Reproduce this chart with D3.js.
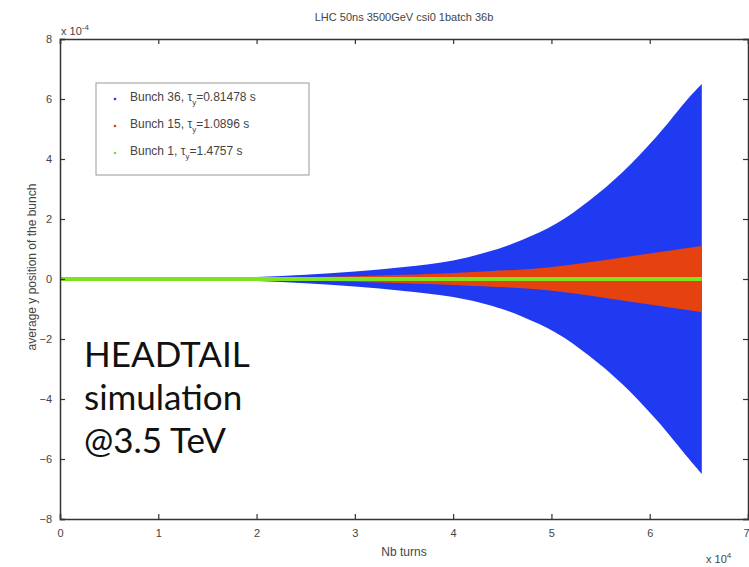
<!DOCTYPE html>
<html>
<head>
<meta charset="utf-8">
<script src="https://cdn.jsdelivr.net/npm/d3@7"></script>
<style>
  body { margin: 0; background: #fff; }
  svg { display: block; font-family: "Liberation Sans", Arial, sans-serif; }
</style>
</head>
<body>
<div id="chart"></div>
<script>
const turns = [0, 0.5, 1.0, 1.5, 2.0, 2.5, 3.0, 3.5, 4.0, 4.4, 4.7, 5.05, 5.38, 5.72, 6.07, 6.4, 6.53];
// envelope of the scatter, y position (x 10^-4)
const blueUpper = [0, 0.01, 0.02, 0.04, 0.07, 0.14, 0.25, 0.4, 0.62, 0.95, 1.3, 1.85, 2.6, 3.55, 4.75, 6.05, 6.5];
const blueLower = [0, -0.01, -0.02, -0.04, -0.07, -0.14, -0.25, -0.4, -0.6, -0.9, -1.25, -1.8, -2.55, -3.5, -4.7, -6.0, -6.5];
const redUpper = [0, 0.005, 0.01, 0.02, 0.04, 0.06, 0.09, 0.14, 0.2, 0.27, 0.32, 0.42, 0.56, 0.72, 0.88, 1.04, 1.1];
const redLower = [0, -0.005, -0.01, -0.02, -0.04, -0.06, -0.09, -0.14, -0.2, -0.26, -0.31, -0.41, -0.55, -0.72, -0.88, -1.04, -1.1];
const greenUpper = [0.07, 0.07, 0.07, 0.07, 0.07, 0.07, 0.07, 0.07, 0.07, 0.07, 0.07, 0.07, 0.07, 0.07, 0.07, 0.07, 0.07];
const greenLower = [-0.07, -0.07, -0.07, -0.07, -0.07, -0.07, -0.07, -0.07, -0.07, -0.07, -0.07, -0.07, -0.07, -0.07, -0.07, -0.07, -0.07];

const seriesNames = ["Bunch 36, ", "Bunch 15, ", "Bunch 1, "];
const tauValues = ["0.81478", "1.0896", "1.4757"];
const colors = ["#1f3af0", "#e6420f", "#7ee21c"];

const xTicks = [0, 1, 2, 3, 4, 5, 6, 7];
const yTicks = [-8, -6, -4, -2, 0, 2, 4, 6, 8];

const W = 749, H = 567;
const plotLeft = 60, plotRight = 748, plotTop = 39, plotBottom = 519;

const svg = d3.select("#chart").append("svg")
    .attr("width", W).attr("height", H);

const x = d3.scaleLinear().domain([0, 7]).range([plotLeft, plotRight]);
const y = d3.scaleLinear().domain([-8, 8]).range([plotBottom, plotTop]);

// envelopes, drawn in plotting order: blue, red, green on top
const bands = [
    { upper: blueUpper, lower: blueLower, color: colors[0] },
    { upper: redUpper, lower: redLower, color: colors[1] },
    { upper: greenUpper, lower: greenLower, color: colors[2] }
];
const area = d3.area()
    .x(d => x(d.t))
    .y0(d => y(d.lo))
    .y1(d => y(d.hi))
    .curve(d3.curveCatmullRom.alpha(0.5));

svg.selectAll(".band")
    .data(bands)
    .join("path")
    .attr("class", "band")
    .attr("fill", d => d.color)
    .attr("d", d => area(turns.map((t, i) => ({ t: t, hi: d.upper[i], lo: d.lower[i] }))));

// axes, MATLAB style: ticks inside, on all four sides
const axisColor = "#333";
const gx = svg.append("g").attr("transform", `translate(0,${plotBottom})`)
    .call(d3.axisBottom(x).tickValues(xTicks).tickSize(-5).tickPadding(10).tickFormat(d3.format("d")));
const gxTop = svg.append("g").attr("transform", `translate(0,${plotTop})`)
    .call(d3.axisTop(x).tickValues(xTicks).tickSize(-5).tickFormat(""));
const gy = svg.append("g").attr("transform", `translate(${plotLeft},0)`)
    .call(d3.axisLeft(y).tickValues(yTicks).tickSize(-5).tickPadding(8).tickFormat(d3.format("d")));
const gyRight = svg.append("g").attr("transform", `translate(${plotRight},0)`)
    .call(d3.axisRight(y).tickValues(yTicks).tickSize(-5).tickFormat(""));

[gx, gxTop, gy, gyRight].forEach(g => {
    g.select(".domain").attr("stroke", axisColor).attr("stroke-width", 1.5);
    g.selectAll(".tick line").attr("stroke", axisColor).attr("stroke-width", 1.2);
    g.selectAll(".tick text").attr("fill", "#444").attr("font-size", 11)
        .attr("font-family", "Liberation Sans, Arial, sans-serif");
});
// last x label sits on the window edge
gx.selectAll(".tick text").filter(d => d === 7).attr("text-anchor", "end").attr("dx", 1);

// exponent labels
const exp = (xx, yy, p) => {
    const t = svg.append("text").attr("x", xx).attr("y", yy)
        .attr("font-size", 11).attr("fill", "#444");
    t.append("tspan").text("x 10");
    t.append("tspan").attr("dy", -5).attr("font-size", 8).text(p);
};
exp(61, 35, "-4");
exp(706, 563, "4");

// title and axis labels
svg.append("text").attr("x", 404).attr("y", 21).attr("text-anchor", "middle")
    .attr("font-size", 11).attr("fill", "#444")
    .text("LHC 50ns 3500GeV csi0 1batch 36b");
svg.append("text").attr("x", 404).attr("y", 556).attr("text-anchor", "middle")
    .attr("font-size", 12).attr("fill", "#444").text("Nb turns");
svg.append("text")
    .attr("transform", `translate(36,${(plotTop + plotBottom) / 2 - 12}) rotate(-90)`)
    .attr("text-anchor", "middle").attr("font-size", 12).attr("fill", "#444")
    .text("average y position of the bunch");

// legend
const legend = svg.append("g");
legend.append("rect").attr("x", 96).attr("y", 83).attr("width", 213).attr("height", 92)
    .attr("fill", "#fff").attr("stroke", "#999").attr("stroke-width", 1);
seriesNames.forEach((name, i) => {
    const ly = 101 + i * 27;
    legend.append("circle").attr("cx", 115).attr("cy", ly - 2).attr("r", 1.3).attr("fill", colors[i]);
    const t = legend.append("text").attr("x", 130).attr("y", ly)
        .attr("font-size", 12).attr("fill", "#444");
    t.append("tspan").text(name + "\u03c4");
    t.append("tspan").attr("dy", 4).attr("font-size", 8).text("y");
    t.append("tspan").attr("dy", -4).text("=" + tauValues[i] + " s");
});

// slide annotation
const note = ["HEADTAIL", "simulation", "@3.5 TeV"];
svg.append("g").selectAll("text")
    .data(note)
    .join("text")
    .attr("x", 84)
    .attr("y", (d, i) => 367 + i * 43)
    .attr("font-family", "Lato, 'Open Sans', sans-serif")
    .attr("font-size", 35)
    .attr("fill", "#111")
    .text(d => d);
</script>
</body>
</html>
